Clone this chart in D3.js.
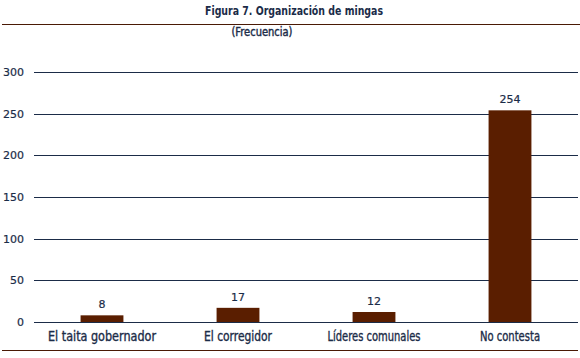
<!DOCTYPE html>
<html><head><meta charset="utf-8">
<script src="https://cdn.jsdelivr.net/npm/d3@7"></script>
<style>body{margin:0;background:#fff}svg{display:block}</style>
</head><body>
<script>
const categories = ["El taita gobernador","El corregidor","Líderes comunales","No contesta"];
const values = [8,17,12,254];
const yTicks = [0,50,100,150,200,250,300];
const title = "Figura 7. Organización de mingas";
const subtitle = "(Frecuencia)";

const W=580,H=358;
const svg=d3.select("body").append("svg").attr("width",W).attr("height",H);
const font="'DejaVu Sans Condensed','DejaVu Sans',sans-serif";
const navy="#1b2c48", bar="#5a1e00";

function ctext(sel,x,y,txt,size,width,weight,stroke){
  const t=sel.append("text").attr("x",x).attr("y",y).attr("text-anchor","middle")
    .attr("font-family",font).attr("font-stretch","condensed").attr("font-weight",weight||"normal")
    .attr("font-size",size).attr("fill",navy).text(txt);
  if(stroke) t.attr("stroke",navy).attr("stroke-width",stroke);
  if(width) t.attr("textLength",width).attr("lengthAdjust","spacingAndGlyphs");
  return t;
}
ctext(svg,294,15,title,12,178,"bold");
svg.append("line").attr("x1",2).attr("x2",W).attr("y1",24.5).attr("y2",24.5).attr("stroke","#4a1a05").attr("stroke-width",1.2);
ctext(svg,262,36,subtitle,12,61,"normal",0.4);
svg.append("line").attr("x1",2).attr("x2",578).attr("y1",350.5).attr("y2",350.5).attr("stroke","#4a1a05").attr("stroke-width",1.2);

const x=d3.scaleBand().domain(categories).range([34,578]).paddingInner(0.685).paddingOuter(0.3425);
const y=d3.scaleLinear().domain([0,300]).range([322,72]);

const g=svg.append("g");
g.selectAll("line.grid").data(yTicks).join("line").attr("class","grid")
  .attr("x1",34).attr("x2",578).attr("y1",d=>Math.round(y(d))+0.5).attr("y2",d=>Math.round(y(d))+0.5)
  .attr("stroke",navy).attr("stroke-width",1.2);
g.selectAll("text.yt").data(yTicks).join("text").attr("class","yt")
  .attr("x",24).attr("y",d=>y(d)+4).attr("text-anchor","end")
  .attr("font-family","'DejaVu Sans',sans-serif").attr("font-size",11).attr("fill",navy)
  .attr("stroke",navy).attr("stroke-width",0.2).text(d=>d);

g.selectAll("rect").data(values).join("rect")
  .attr("x",(d,i)=>x(categories[i])).attr("width",x.bandwidth())
  .attr("y",d=>y(d)).attr("height",d=>y(0)-y(d)).attr("fill",bar);
g.selectAll("text.vl").data(values).join("text").attr("class","vl")
  .attr("x",(d,i)=>x(categories[i])+x.bandwidth()/2).attr("y",d=>y(d)-7).attr("text-anchor","middle")
  .attr("font-family","'DejaVu Sans',sans-serif").attr("font-size",11).attr("fill",navy)
  .attr("stroke",navy).attr("stroke-width",0.2).text(d=>d);
const catW=[108,68,93,60];
categories.forEach((c,i)=>{
  ctext(g,x(c)+x.bandwidth()/2,341,c,14,catW[i],"normal",0.35);
});
</script>
</body></html>
